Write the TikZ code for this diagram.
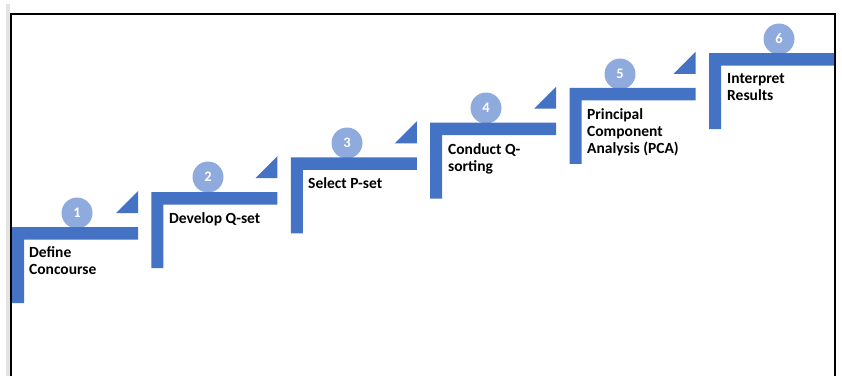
\documentclass[tikz,border=0pt]{standalone}
\usepackage{fontspec}
\setmainfont{Carlito}
\definecolor{stepblue}{HTML}{4472C4}
\definecolor{badgeblue}{HTML}{8FAADC}
\definecolor{edgegray}{HTML}{E3E3E3}
\begin{document}
\begin{tikzpicture}[x=1pt,y=-1pt,
  stairfill/.style={fill=stepblue},
  badge/.style={circle,fill=badgeblue,minimum size=31pt,inner sep=0pt,text=white,
    font=\bfseries\fontsize{14.5}{14.5}\selectfont},
  steplabel/.style={anchor=north west,inner sep=0pt,align=left,
    font=\bfseries\fontsize{15.5}{17}\selectfont}]
\useasboundingbox (0,0) rectangle (842,376);
% page edge and frame
\fill[edgegray] (6,4) rectangle (10,376);
\draw[line width=2pt] (11,376) -- (11,14) -- (834.5,14) -- (834.5,376);
% badges sit behind the stair treads
\node[badge] (b1) at (77,213) {1};
\node[badge] (b2) at (208,177) {2};
\node[badge] (b3) at (347,143) {3};
\node[badge] (b4) at (486,108) {4};
\node[badge] (b5) at (620,74) {5};
\node[badge] (b6) at (779,39) {6};
% stairs: tread + riser, and a small wedge at the end of each tread
\foreach \i in {0,...,5}{
  \pgfmathsetmacro{\xa}{12+139.4*\i}
  \pgfmathsetmacro{\ya}{227-34.8*\i}
  \pgfmathsetmacro{\xb}{\i==5 ? 834 : \xa+126}
  \fill[stairfill] (\xa,\ya+76) -- (\xa,\ya) -- (\xb,\ya) -- (\xb,\ya+12.5)
    -- (\xa+12,\ya+12.5) -- (\xa+12,\ya+76) -- cycle;
  \ifnum\i<5
    \fill[stairfill] (\xb-22,\ya-14) -- (\xb,\ya-14) -- (\xb,\ya-36) -- cycle;
  \fi
}
% step labels
\node[steplabel] (t1) at (29,246.5) {Define\\Concourse};
\node[steplabel] (t2) at (169,212.5) {Develop Q-set};
\node[steplabel] (t3) at (308,177.5) {Select P-set};
\node[steplabel] (t4) at (448,143.5) {Conduct Q-\\sorting};
\node[steplabel] (t5) at (587,108.5) {Principal\\Component\\Analysis (PCA)};
\node[steplabel] (t6) at (727,73.5) {Interpret\\Results};
\end{tikzpicture}
\end{document}
